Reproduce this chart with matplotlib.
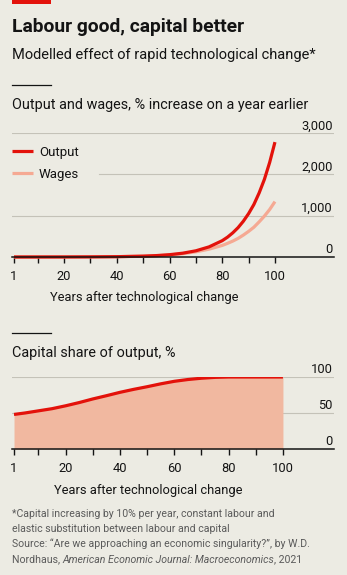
import matplotlib.pyplot as plt
from matplotlib.ticker import FixedLocator

W, H = 347, 575
BG = '#ECEBE3'
RED = '#E3120B'
PINK = '#F5A993'
FILL = '#F1B8A0'
GRID = '#C4C2B8'
INK = '#141414'

# output and wages, % increase on a year earlier
years = [1, 20, 30, 40, 50, 55, 60, 65, 70, 75, 80, 82, 84, 86, 88, 90, 92, 94, 96, 98, 100]
output = [0, 1, 3, 8, 21, 34, 56, 92, 150, 245, 395, 480, 585, 710, 865, 1050, 1270, 1550, 1880, 2290, 2780]
wages = [0, 1, 3, 7, 18, 30, 48, 80, 125, 190, 280, 330, 385, 450, 530, 620, 720, 850, 990, 1150, 1340]
out_ticks = [0, 1000, 2000, 3000]

# capital share of output, %
share_years = [1, 5, 10, 15, 20, 25, 30, 35, 40, 45, 50, 55, 60, 65, 70, 75, 80, 85, 90, 95, 100]
share = [48, 50, 53, 56, 60, 64.5, 69.5, 74, 78.7, 82.8, 86.5, 90.5, 94, 96.5, 98.3, 99.5, 100, 100, 100, 100, 100]
share_ticks = [0, 50, 100]

major_x = [1, 20, 40, 60, 80, 100]
minor_x = [10, 30, 50, 70, 90]

plt.rcParams['font.family'] = ['Roboto', 'DejaVu Sans']

fig = plt.figure(figsize=(W / 100, H / 100), dpi=100, facecolor=BG)


def rect(left, top, right, bottom):
    return [left / W, 1 - bottom / H, (right - left) / W, (bottom - top) / H]


def fy(py):
    return 1 - py / H


def style_axis(ax, ticks, fmt, skip_grid=None):
    ax.set_facecolor('none')
    for s in ['top', 'left', 'right']:
        ax.spines[s].set_visible(False)
    ax.spines['bottom'].set_color(INK)
    ax.spines['bottom'].set_linewidth(1.1)
    ax.spines['bottom'].set_zorder(5)
    ax.xaxis.set_major_locator(FixedLocator(major_x))
    ax.xaxis.set_minor_locator(FixedLocator(minor_x))
    ax.tick_params(axis='x', which='both', length=4.5, width=1, color=INK,
                   labelsize=9.3, labelcolor=INK, pad=4.5)
    ax.set_yticks([])
    for v in ticks:
        if v > 0:
            xmin = skip_grid[1] if skip_grid and skip_grid[0] == v else 0
            ax.axhline(v, xmin=xmin, color=GRID, lw=0.8, zorder=0)
        ax.annotate(fmt(v), xy=(1, v), xycoords=ax.get_yaxis_transform(),
                    xytext=(-1, 2.6), textcoords='offset points',
                    ha='right', va='baseline', fontsize=9.3, color=INK)


# header
fig.patches.append(plt.Rectangle((12 / W, fy(4)), 39 / W, 4 / H, transform=fig.transFigure,
                                 color=RED, lw=0))
fig.text(12 / W, fy(31.7), 'Labour good, capital better', fontsize=13.9, fontweight='bold',
         color=INK, va='baseline')
fig.text(12 / W, fy(59.3), 'Modelled effect of rapid technological change*', fontsize=10.5,
         color=INK, va='baseline')

for py in [85, 333]:
    fig.add_artist(plt.Line2D([12 / W, 51 / W], [fy(py), fy(py)], color=INK, lw=0.9))

fig.text(12 / W, fy(109.3), 'Output and wages, % increase on a year earlier', fontsize=10.4,
         color=INK, va='baseline')
fig.text(12 / W, fy(356.7), 'Capital share of output, %', fontsize=10.4,
         color=INK, va='baseline')

# chart 1
ax1 = fig.add_axes(rect(12, 133, 334, 257))
ax1.set_xlim(0.24, 122.4)
ax1.set_ylim(0, 3000)
style_axis(ax1, out_ticks, lambda v: f'{v:,}', skip_grid=(2000, 0.27))
ax1.plot(years, wages, color=PINK, lw=2.3, solid_capstyle='butt', clip_on=False, label='Wages', zorder=3)
ax1.plot(years, output, color=RED, lw=2.3, solid_capstyle='butt', clip_on=False, label='Output', zorder=4)
h, l = ax1.get_legend_handles_labels()
ax1.legend(h[::-1], l[::-1], loc='upper left', bbox_to_anchor=(12 / W, fy(146)),
           bbox_transform=fig.transFigure, frameon=False, fontsize=9.5, handlelength=1.6,
           handletextpad=0.45, labelspacing=0.65, borderpad=0, borderaxespad=0,
           labelcolor=INK)
ax1.text(50.5, -(300.7 - 257) / 124, 'Years after technological change',
         transform=ax1.get_xaxis_transform(), fontsize=9.3, color=INK, ha='center', va='baseline')

# chart 2
ax2 = fig.add_axes(rect(12, 377, 334, 449))
ax2.set_xlim(0.26, 118.8)
ax2.set_ylim(0, 100)
style_axis(ax2, share_ticks, lambda v: f'{v}')
ax2.fill_between(share_years, share, color=FILL, lw=0, zorder=1)
ax2.plot(share_years, share, color=RED, lw=2.3, solid_capstyle='butt', zorder=4)
ax2.text(50.5, -(494.3 - 449) / 72, 'Years after technological change',
         transform=ax2.get_xaxis_transform(), fontsize=9.3, color=INK, ha='center', va='baseline')

# footnote
GREY = '#5A5A5A'
fs = 7.6
fig.text(12 / W, fy(516.7), '*Capital increasing by 10% per year, constant labour and',
         fontsize=fs, color=GREY, va='baseline')
fig.text(12 / W, fy(531.7), 'elastic substitution between labour and capital',
         fontsize=fs, color=GREY, va='baseline')
fig.text(12 / W, fy(547.3), 'Source: \u201cAre we approaching an economic singularity?\u201d, by W.D.',
         fontsize=fs, color=GREY, va='baseline')
renderer = fig.canvas.get_renderer()
x = 12
for piece, st in [('Nordhaus, ', 'normal'), ('American Economic Journal: Macroeconomics', 'italic'),
                  (', 2021', 'normal')]:
    t = fig.text(x / W, fy(562.7), piece, fontsize=fs, color=GREY, va='baseline', style=st)
    x = t.get_window_extent(renderer).x1

fig.savefig('out.png', dpi=100, facecolor=BG)
